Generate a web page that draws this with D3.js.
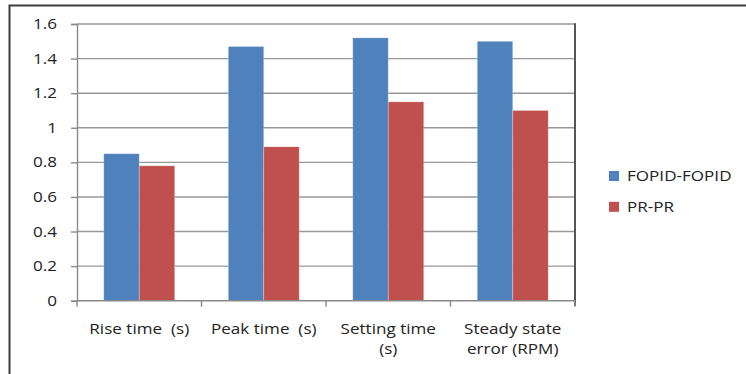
<!DOCTYPE html>
<html>
<head>
<meta charset="utf-8">
<script src="https://cdn.jsdelivr.net/npm/d3@7"></script>
<style>
  html, body { margin: 0; padding: 0; background: #fff; }
  svg { display: block; }
  text { font-family: "Open Sans", "DejaVu Sans", sans-serif; fill: #222; }
</style>
</head>
<body>
<svg id="chart" width="746" height="374"></svg>
<script>
// Controller performance indices
const categories = ["Rise time  (s)", "Peak time  (s)", "Setting time\n(s)", "Steady state\nerror (RPM)"];
const seriesNames = ["FOPID-FOPID", "PR-PR"];
const fopidValues = [0.85, 1.47, 1.52, 1.50];
const prValues = [0.78, 0.89, 1.15, 1.10];
const yTicks = [0, 0.2, 0.4, 0.6, 0.8, 1, 1.2, 1.4, 1.6];
const colors = ["#4F81BD", "#C0504D"];

const series = [fopidValues, prValues];
const STRETCH = 1.22;   // wide horizontal glyph proportion
const FONT = 14;

const svg = d3.select("#chart");
const plot = { left: 77, right: 575, top: 24, bottom: 300.7 };

// outer frame
svg.append("path")
  .attr("d", "M9.5,374 L9.5,5.5 L746,5.5")
  .attr("fill", "none").attr("stroke", "#3c3c3c").attr("stroke-width", 2);

const y = d3.scaleLinear().domain([0, 1.6]).range([plot.bottom, plot.top]);
const x = d3.scaleBand().domain(categories).range([plot.left, plot.right])
  .paddingInner(0.43).paddingOuter(0.215);
const xs = d3.scaleBand().domain(d3.range(series.length)).range([0, x.bandwidth()]);

// gridlines
svg.append("g").selectAll("line").data(yTicks.filter(t => t > 0)).join("line")
  .attr("x1", plot.left).attr("x2", plot.right)
  .attr("y1", d => y(d)).attr("y2", d => y(d))
  .attr("stroke", "#979797").attr("stroke-width", 1.4);

// right edge of plot area
svg.append("line")
  .attr("x1", plot.right).attr("x2", plot.right)
  .attr("y1", y(1.6) - 0.7).attr("y2", y(0) + 5)
  .attr("stroke", "#555").attr("stroke-width", 2);

// bars
const groups = svg.append("g").selectAll("g").data(categories).join("g")
  .attr("transform", d => `translate(${x(d)},0)`);
groups.selectAll("rect")
  .data((d, i) => series.map((s, k) => ({ k, v: s[i] })))
  .join("rect")
  .attr("x", d => xs(d.k))
  .attr("width", xs.bandwidth())
  .attr("y", d => y(d.v))
  .attr("height", d => y(0) - y(d.v))
  .attr("fill", d => colors[d.k])
  .attr("stroke", "rgba(255,255,255,0.35)")
  .attr("stroke-width", 0.8);

// y axis
const yAxis = svg.append("g")
  .attr("transform", `translate(${plot.left},0)`)
  .call(d3.axisLeft(y).tickValues(yTicks).tickSize(6).tickPadding(14)
    .tickFormat(d3.format("")));
yAxis.select(".domain").attr("stroke", "#8a8a8a").attr("stroke-width", 1.4);
yAxis.selectAll(".tick line").attr("stroke", "#8a8a8a").attr("stroke-width", 1.4);
yAxis.selectAll(".tick text").each(function () {
  const t = d3.select(this);
  const xx = +t.attr("x");
  t.attr("x", null).attr("dy", null)
    .attr("transform", `translate(${xx},4.6) scale(${STRETCH},1)`)
    .attr("font-size", FONT).attr("font-family", null).style("fill", "#222");
});
yAxis.attr("font-family", null);

// x axis line with ticks at category boundaries
const xAxis = svg.append("g");
xAxis.append("line")
  .attr("x1", plot.left).attr("x2", plot.right)
  .attr("y1", y(0)).attr("y2", y(0))
  .attr("stroke", "#8a8a8a").attr("stroke-width", 1.4);
const bounds = categories.map(c => x(c) - x.paddingOuter() * x.step()).concat([plot.right]);
xAxis.selectAll("line.b").data(bounds).join("line").attr("class", "b")
  .attr("x1", d => d).attr("x2", d => d)
  .attr("y1", y(0)).attr("y2", y(0) + 6)
  .attr("stroke", "#8a8a8a").attr("stroke-width", 1.4);

// category labels
const labels = xAxis.selectAll("g.lab").data(categories).join("g").attr("class", "lab")
  .attr("transform", d => `translate(${x(d) + x.bandwidth() / 2},334) scale(${STRETCH},1)`);
labels.each(function (d) {
  const g = d3.select(this);
  d.split("\n").forEach((line, i) => {
    g.append("text").attr("y", i * 20).attr("text-anchor", "middle")
      .attr("font-size", FONT).style("white-space", "pre").text(line);
  });
});

// legend
const legend = svg.append("g").attr("transform", "translate(609,171)");
const items = legend.selectAll("g").data(seriesNames).join("g")
  .attr("transform", (d, i) => `translate(0,${i * 30.8})`);
items.append("rect").attr("width", 10).attr("height", 10)
  .attr("fill", (d, i) => colors[i]);
items.append("text")
  .attr("transform", `translate(18,10) scale(${STRETCH},1)`)
  .attr("font-size", FONT).text(d => d);
</script>
</body>
</html>
